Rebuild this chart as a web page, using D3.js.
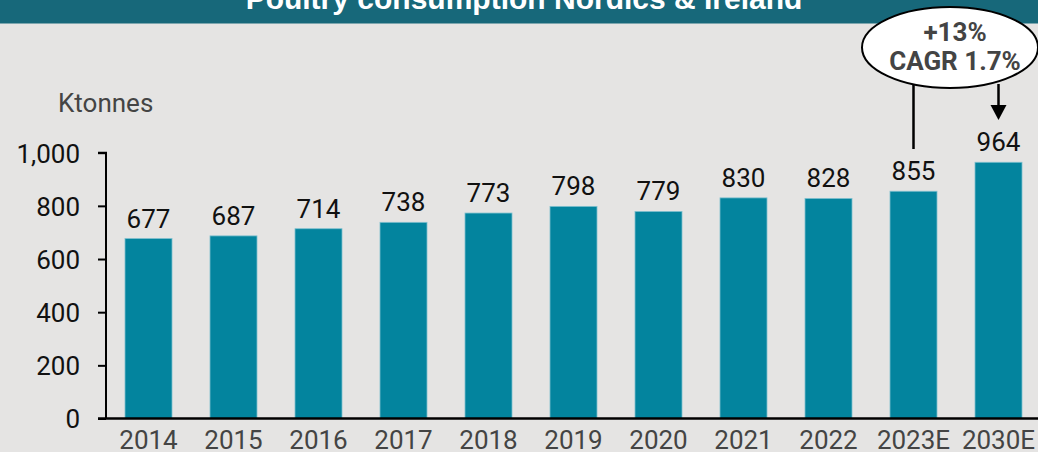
<!DOCTYPE html>
<html><head><meta charset="utf-8">
<script src="https://cdn.jsdelivr.net/npm/d3@7"></script>
<style>
html,body{margin:0;padding:0;background:#e5e4e3;}
svg{display:block;}
</style></head>
<body>
<script>
const title = "Poultry consumption Nordics & Ireland";
const unitLabel = "Ktonnes";
const categories = ["2014","2015","2016","2017","2018","2019","2020","2021","2022","2023E","2030E"];
const values = [677,687,714,738,773,798,779,830,828,855,964];
const yTicks = [0,200,400,600,800,1000];
const annoLines = ["+13%","CAGR 1.7%"];
const annoFrom = "2023E", annoTo = "2030E";

const W = 1038, H = 452;
const svg = d3.select("body").append("svg").attr("width", W).attr("height", H);
svg.append("rect").attr("width", W).attr("height", H).attr("fill", "#e5e4e3");

// header
svg.append("rect").attr("x",0).attr("y",0).attr("width",W).attr("height",23.5).attr("fill","#17687a");
svg.append("text").attr("x",524).attr("y",9).attr("text-anchor","middle")
  .attr("font-family","'Liberation Sans Narrow','Liberation Sans',Arial,sans-serif")
  .attr("font-weight","bold").attr("font-size",30).attr("fill","#ffffff").text(title);

const x = d3.scaleBand().domain(categories).range([106, 1041]).paddingInner(0.447).paddingOuter(0.2235);
const y = d3.scaleLinear().domain([0,1000]).range([418.5, 152.7]);

// bars
svg.selectAll("rect.bar").data(values).enter().append("rect").attr("class","bar")
  .attr("x",(d,i)=>x(categories[i])).attr("width",x.bandwidth())
  .attr("y",d=>y(d)).attr("height",d=>y(0)-y(d))
  .attr("fill","#03849e").attr("stroke","#7fc0cf").attr("stroke-width",0.8);

// value labels
svg.selectAll("text.val").data(values).enter().append("text").attr("class","val")
  .attr("x",(d,i)=>x(categories[i])+x.bandwidth()/2).attr("y",d=>y(d)-11)
  .attr("text-anchor","middle").attr("font-family","Roboto,sans-serif").attr("font-size",26)
  .attr("fill","#111").text(d=>d);

// y axis
const yAxis = d3.axisLeft(y).tickValues(yTicks).tickSize(8).tickPadding(18).tickFormat(d3.format(","));
const gy = svg.append("g").attr("transform","translate(106,0)").call(yAxis);
gy.select(".domain").attr("stroke","#000").attr("stroke-width",2).attr("d","M-8,"+y(1000)+"H0V"+y(0));
gy.selectAll(".tick line").attr("stroke","#000").attr("stroke-width",2);
gy.selectAll(".tick text").attr("font-family","Roboto,sans-serif").attr("font-size",26).attr("fill","#111").attr("dy","0.36em");

// x axis
const xAxis = d3.axisBottom(x).tickSize(0).tickPadding(12);
const gx = svg.append("g").attr("transform","translate(0,"+y(0)+")").call(xAxis);
gx.select(".domain").attr("stroke","#000").attr("stroke-width",2.5).attr("d","M98,0H1038");
gx.selectAll(".tick text").attr("font-family","Roboto,sans-serif").attr("font-size",26).attr("fill","#444").attr("dy","0.71em");

// unit label
svg.append("text").attr("x",58).attr("y",112).attr("font-family","Roboto,sans-serif")
  .attr("font-size",26).attr("fill","#444").text(unitLabel);

// annotation
const cxA = x(annoFrom)+x.bandwidth()/2, cxB = x(annoTo)+x.bandwidth()/2;
svg.append("line").attr("x1",cxA).attr("x2",cxA).attr("y1",84).attr("y2",149).attr("stroke","#000").attr("stroke-width",2.5);
svg.append("line").attr("x1",cxB).attr("x2",cxB).attr("y1",84).attr("y2",108).attr("stroke","#000").attr("stroke-width",2.5);
svg.append("path").attr("d",`M${cxB-8},105L${cxB+8},105L${cxB},120Z`).attr("fill","#000");
svg.append("ellipse").attr("cx",950).attr("cy",47.5).attr("rx",88).attr("ry",40.5)
  .attr("fill","#fff").attr("stroke","#000").attr("stroke-width",2);
svg.selectAll("text.anno").data(annoLines).enter().append("text").attr("class","anno")
  .attr("x",955).attr("y",(d,i)=>41+i*28.5).attr("text-anchor","middle")
  .attr("font-family","Roboto,sans-serif").attr("font-weight","bold").attr("font-size",26)
  .attr("fill","#444").text(d=>d);
</script>
</body></html>
